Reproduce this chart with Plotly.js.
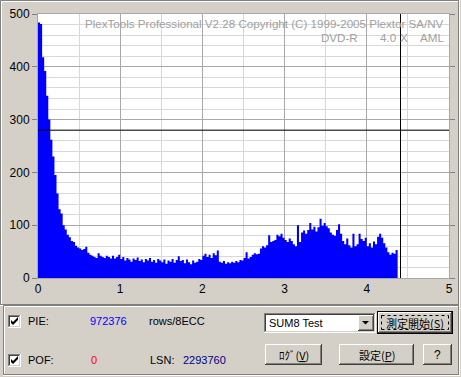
<!DOCTYPE html>
<html><head><meta charset="utf-8">
<script src="https://cdn.plot.ly/plotly-3.0.1.min.js"></script>
<style>html,body{margin:0;padding:0;background:#d4d0c8;overflow:hidden}</style>
</head><body><div id="chart" style="width:461px;height:377px"></div>
<script>
// ---------------- data ----------------
const binStep = 0.025;
const pieValues = [
 484,481,418,392,345,300,262,230,195,160,
 130,122,100,92,82,77,70,68,61,58,
 56,53,55,59,48,44,42,40,38,47,
 42,40,38,42,40,37,42,37,40,44,
 36,40,33,38,35,31,37,34,39,32,
 35,30,36,33,38,31,34,29,36,33,
 30,35,27,33,31,36,29,34,41,32,
 34,28,35,30,26,33,29,31,36,34,
 42,46,40,44,38,47,43,52,
 31,29,32,27,30,28,31,29,
 32,30,34,33,
 38,49,37,40, 44,47,45,46, 56,60,58,62, 81,68,70,72,
 82,79,84,76, 72,68,75,70, 64,60,100,68, 86,90,84,91,
 104,92,97,88, 96,112,99,104, 98,94,86,82, 80,91,102,84,
 70,64,75,62, 58,84,60,64, 84,74,70,76, 60,66,58,69,
 64,78,84,76, 66,58,49,44,
 48,46,53
];
const xTicks = [0,1,2,3,4,5];
const yTicks = [0,100,200,300,400,500];
const cursorX = 4.41;
const cursorY = 280;
const titleLine1 = "PlexTools Professional V2.28 Copyright (C) 1999-2005 Plextor SA/NV";
const titleLine2 = ["DVD-R","4.0","X","AML"];
const pieTotal = "972376";
const pofTotal = "0";
const lsnValue = "2293760";
const testMode = "SUM8 Test";

// ---------------- geometry helpers ----------------
const W=461,H=377,L=38,R=12,T=14,B=99;
const PW=W-L-R, PH=H-T-B;
const px = x => (x-L)/PW;
const py = y => (H-B-y)/PH;
const FONT = '"Liberation Sans", Arial, sans-serif';
const JFONT = '"Noto Sans CJK JP", sans-serif';
const BG = '#d4d0c8';

const shapes = [];
const ann = [];
function rect(x0,y0,x1,y1,fill){shapes.push({type:'rect',xref:'paper',yref:'paper',x0:px(x0),x1:px(x1),y0:py(y0),y1:py(y1),fillcolor:fill,line:{width:0},layer:'above'});}
function ln(x0,y0,x1,y1,c,w,dash){shapes.push({type:'line',xref:'paper',yref:'paper',x0:px(x0),x1:px(x1),y0:py(y0),y1:py(y1),line:{color:c,width:w||1,dash:dash||'solid'},layer:'above'});}
function path(d,fill){shapes.push({type:'path',xref:'paper',yref:'paper',path:d,fillcolor:fill,line:{width:0},layer:'above'});}
function pth(pts,close){return pts.map((p,i)=>(i?'L':'M')+px(p[0])+','+py(p[1])).join(' ')+(close?' Z':'');}
function txt(t,x,y,opt){opt=opt||{};ann.push({text:t,xref:'paper',yref:'paper',x:px(x),y:py(y),xanchor:opt.xa||'left',yanchor:'middle',showarrow:false,font:{family:opt.f||FONT,size:opt.s||11,color:opt.c||'#000000'},borderpad:0});}
function etched(x0,y0,x1,y1){
  ln(x0+0.5,y0+0.5,x1-1,y0+0.5,'#808080');ln(x0+0.5,y0+0.5,x0+0.5,y1-1,'#808080');
  ln(x1-1.5,y0+0.5,x1-1.5,y1-1,'#808080');ln(x0+0.5,y1-1.5,x1-1,y1-1.5,'#808080');
  ln(x0+1.5,y0+1.5,x1-2,y0+1.5,'#ffffff');ln(x0+1.5,y0+1.5,x0+1.5,y1-2,'#ffffff');
  ln(x1-0.5,y0,x1-0.5,y1,'#ffffff');ln(x0,y1-0.5,x1,y1-0.5,'#ffffff');
}
function sunken(x0,y0,x1,y1,fill){
  rect(x0,y0,x1,y1,fill||'#ffffff');
  ln(x0,y0+0.5,x1-1,y0+0.5,'#808080');ln(x0+0.5,y0,x0+0.5,y1-1,'#808080');
  ln(x0+1,y0+1.5,x1-2,y0+1.5,'#404040');ln(x0+1.5,y0+1,x0+1.5,y1-2,'#404040');
  ln(x0,y1-0.5,x1,y1-0.5,'#ffffff');ln(x1-0.5,y0,x1-0.5,y1,'#ffffff');
  ln(x0+1,y1-1.5,x1-1,y1-1.5,BG);ln(x1-1.5,y0+1,x1-1.5,y1-1,BG);
}
function raised(x0,y0,x1,y1){
  rect(x0,y0,x1,y1,BG);
  ln(x0,y0+0.5,x1-1,y0+0.5,'#ffffff');ln(x0+0.5,y0,x0+0.5,y1-1,'#ffffff');
  ln(x0,y1-0.5,x1,y1-0.5,'#404040');ln(x1-0.5,y0,x1-0.5,y1,'#404040');
  ln(x0+1,y1-1.5,x1-1,y1-1.5,'#808080');ln(x1-1.5,y0+1,x1-1.5,y1-1,'#808080');
}
function checkbox(x0,y0){
  sunken(x0,y0,x0+13,y0+13);
  path(pth([[x0+3,y0+5],[x0+5,y0+7],[x0+10,y0+2],[x0+10,y0+5],[x0+5,y0+10],[x0+3,y0+8]],true),'#000000');
}

// window frames
etched(0,0,460,306);
etched(3,305,460,376);

// bottom panel
checkbox(8,315); checkbox(8,354);
txt('PIE:',27,321); txt(pieTotal,89,321,{c:'#0000ff'}); txt('rows/8ECC',148,321);
txt('POF:',27,360); txt(pofTotal,90,360,{c:'#ff0000'}); txt('LSN:',149,360); txt(lsnValue,182,360,{c:'#000080'});
// combo box
sunken(264,313,376,333);
raised(358,315,374,331);
path(pth([[362,321],[369,321],[365.5,324.5]],true),'#000000');
txt(testMode,268,323);
// default button
rect(377,311,453,334,'#000000');
raised(378,312,452,333);
ln(381.5,315.5,448.5,315.5,'#000000',1,'dot');ln(381.5,329.5,448.5,329.5,'#000000',1,'dot');
ln(381.5,315.5,381.5,329.5,'#000000',1,'dot');ln(448.5,315.5,448.5,329.5,'#000000',1,'dot');
txt('測定開始(<span style="text-decoration:underline">S</span>)',415,322.5,{xa:'center',f:JFONT,s:11});
raised(265,344,322,365); txt('ﾛｸﾞ(<span style="text-decoration:underline">V</span>)',293.5,354.5,{xa:'center',f:JFONT,s:11});
raised(339,344,414,365); txt('設定(<span style="text-decoration:underline">P</span>)',376.5,354.5,{xa:'center',f:JFONT,s:11});
raised(423,344,452,365); txt('?',437.5,354.5,{xa:'center',s:12});

// watermark
txt(titleLine1,445,24,{xa:'right',c:'#a0a0a0',s:11.6});
txt(titleLine2[0],359,37,{xa:'right',c:'#a0a0a0',s:11.6});
txt(titleLine2[1],397,37,{xa:'right',c:'#a0a0a0',s:11.6});
txt(titleLine2[2],399,37,{c:'#a0a0a0',s:11.6});
txt(titleLine2[3],445,37,{xa:'right',c:'#a0a0a0',s:11.6});

// cursor cross-hair (data coords)
shapes.push({type:'line',xref:'paper',yref:'y',x0:0,x1:1,y0:cursorY,y1:cursorY,line:{color:'#000000',width:1},layer:'above'});
shapes.push({type:'line',xref:'x',yref:'paper',x0:cursorX,x1:cursorX,y0:0,y1:1,line:{color:'#000000',width:1},layer:'above'});

// histogram drawn as a step-filled area over bin edges
const binEdges = pieValues.map((_,i)=>i*binStep).concat([pieValues.length*binStep]);
const stepValues = pieValues.concat([pieValues[pieValues.length-1]]);
const trace = {type:'scatter',mode:'lines',x:binEdges,y:stepValues,line:{shape:'hv',color:'#0000ff',width:0},fill:'tozeroy',fillcolor:'#0000ff',hoverinfo:'skip'};

const layout = {
  width:W,height:H,margin:{l:L,r:R,t:T,b:B,pad:0},
  paper_bgcolor:BG,plot_bgcolor:'#ffffff',showlegend:false,
  font:{family:FONT,size:12,color:'#000000'},
  xaxis:{range:[0,5],tickmode:'array',tickvals:xTicks,ticktext:xTicks.map(String),
    showgrid:true,gridcolor:'#a8a8a8',gridwidth:1,
    minor:{dtick:0.5,showgrid:true,gridcolor:'#d8d8d8',gridwidth:1},
    ticks:'',
    showline:true,linecolor:'#a8a8a8',linewidth:1,mirror:true,zeroline:false,
    tickfont:{family:FONT,size:12,color:'#000000'},fixedrange:true},
  yaxis:{range:[0,500],tickmode:'array',tickvals:yTicks,ticktext:yTicks.map(String),
    showgrid:true,gridcolor:'#a8a8a8',gridwidth:1,
    minor:{dtick:20,showgrid:true,gridcolor:'#d8d8d8',gridwidth:1},
    ticks:'outside',ticklen:5,tickcolor:'#808080',tickwidth:1,
    showline:true,linecolor:'#a8a8a8',linewidth:1,mirror:'ticks',zeroline:false,
    tickfont:{family:FONT,size:12,color:'#000000'},fixedrange:true},
  shapes:shapes,annotations:ann
};
Plotly.newPlot('chart',[trace],layout,{staticPlot:true,displayModeBar:false});
</script></body></html>
